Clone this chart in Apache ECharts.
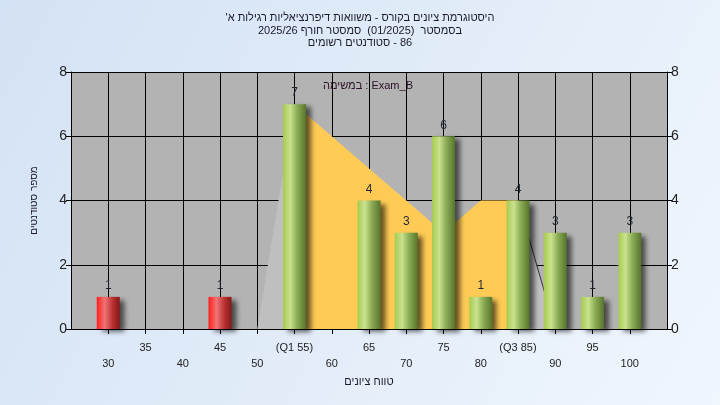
<!DOCTYPE html>
<html>
<head>
<meta charset="utf-8">
<script src="https://cdn.jsdelivr.net/npm/echarts@6/dist/echarts.min.js"></script>
<style>
  html, body { margin: 0; padding: 0; }
  #histChart { width: 720px; height: 405px; }
</style>
</head>
<body>
<div id="histChart"></div>
<script>
// ציונים ומספר סטודנטים
const grades = [30, 45, 55, 65, 70, 75, 80, 85, 90, 95, 100]
const counts = [1, 1, 7, 4, 3, 6, 1, 4, 3, 1, 3]
const passMark = 55

// עקומה ברקע (רבעונים)
const curveX = [50, 55, 60, 65, 70, 75, 80, 85, 90]
const curveY = [0, 7, 6, 5, 4, 3, 4, 4, 0]
const q1 = 55
const q3 = 85

const yTicks = [0, 2, 4, 6, 8]
const xLabels = { 55: '(Q1 55)', 85: '(Q3 85)' }

const titleLines = [
  "היסטוגרמת ציונים בקורס - משוואות דיפרנציאליות רגילות א'",
  'בסמסטר  (01/2025)  סמסטר חורף 2025/26',
  '86 - סטודנטים רשומים'
]
const examLabel = 'Exam_B : במשימה'

const FONT = 'Liberation Sans, Arial, sans-serif'

// טקסט מימין לשמאל
function rtl(s) {
  return '\u202B' + s + '\u202C'
}

function segment(from, to) {
  const pts = []
  curveX.forEach((x, i) => {
    if (x >= from && x <= to) pts.push([x, curveY[i]])
  })
  return pts
}

function barColor(grade) {
  if (grade < passMark) {
    return new echarts.graphic.LinearGradient(0, 0, 1, 0, [
      { offset: 0, color: '#ff1e1e' },
      { offset: 0.35, color: '#f07474' },
      { offset: 0.7, color: '#b83030' },
      { offset: 1, color: '#861818' }
    ])
  }
  return new echarts.graphic.LinearGradient(0, 0, 1, 0, [
    { offset: 0, color: '#a6ca50' },
    { offset: 0.32, color: '#c9e28e' },
    { offset: 0.6, color: '#8fae58' },
    { offset: 1, color: '#56752c' }
  ])
}

const chart = echarts.init(document.getElementById('histChart'))

const option = {
  backgroundColor: new echarts.graphic.LinearGradient(0, 0, 1, 1, [
    { offset: 0, color: '#d3e2f4' },
    { offset: 1, color: '#f0f6fd' }
  ]),
  animation: false,
  textStyle: { fontFamily: FONT },
  title: {
    text: titleLines.map(rtl).join('\n'),
    left: 'center',
    top: 7,
    textStyle: { fontSize: 11, fontWeight: 'normal', color: '#1a1a2a', lineHeight: 12.5, fontFamily: FONT }
  },
  graphic: [
    {
      type: 'text',
      left: 323,
      top: 80,
      style: { text: rtl(examLabel), fontSize: 11, fill: '#2a1028', fontFamily: FONT }
    }
  ],
  grid: {
    left: 71,
    right: 53,
    top: 72,
    bottom: 76,
    show: true,
    backgroundColor: '#b3b3b3',
    borderWidth: 0
  },
  xAxis: {
    type: 'value',
    min: 25,
    max: 105,
    interval: 5,
    name: rtl('טווח ציונים'),
    nameLocation: 'middle',
    nameGap: 46,
    nameTextStyle: { fontSize: 11, color: '#1a1a2a' },
    axisLine: { lineStyle: { color: '#000', width: 1 } },
    axisTick: { show: true, length: 5, lineStyle: { color: '#000' } },
    splitLine: { show: true, lineStyle: { color: '#000', width: 1 } },
    axisLabel: {
      color: '#222',
      fontSize: 11,
      margin: 11,
      lineHeight: 16,
      showMinLabel: false,
      showMaxLabel: false,
      formatter: function(v) {
        if (v <= 25 || v >= 105) return ''
        const txt = xLabels[v] || String(v)
        return v % 10 === 0 ? '\n' + txt : txt
      }
    }
  },
  yAxis: [
    {
      type: 'value',
      min: 0,
      max: yTicks[yTicks.length - 1],
      interval: 2,
      name: rtl('מספר סטודנטים'),
      nameLocation: 'middle',
      nameGap: 32,
      nameTextStyle: { fontSize: 10, color: '#1a1a2a' },
      axisLine: { show: true, lineStyle: { color: '#000' } },
      axisTick: { show: true, length: 5, lineStyle: { color: '#000' } },
      splitLine: { show: true, lineStyle: { color: '#000', width: 1 } },
      axisLabel: { color: '#222', fontSize: 14, margin: 4 }
    },
    {
      type: 'value',
      min: 0,
      max: yTicks[yTicks.length - 1],
      interval: 2,
      position: 'right',
      axisLine: { show: true, lineStyle: { color: '#000' } },
      axisTick: { show: true, length: 5, lineStyle: { color: '#000' } },
      splitLine: { show: false },
      axisLabel: { color: '#222', fontSize: 14, margin: 4 }
    }
  ],
  series: [
    {
      type: 'line',
      data: segment(0, q1),
      symbol: 'none',
      lineStyle: { width: 0 },
      areaStyle: { color: '#bfbfbf', opacity: 1 },
      z: 1
    },
    {
      type: 'line',
      data: segment(q1, q3),
      symbol: 'none',
      lineStyle: { width: 0 },
      areaStyle: { color: '#ffcb55', opacity: 1 },
      z: 1
    },
    {
      type: 'line',
      data: segment(q3, 200),
      symbol: 'none',
      lineStyle: { width: 1, color: '#333' },
      areaStyle: { color: '#bfbfbf', opacity: 1 },
      z: 1
    },
    {
      type: 'bar',
      data: grades.map((g, i) => [g, counts[i]]),
      barWidth: 23,
      z: 3,
      itemStyle: {
        color: function(params) {
          return barColor(params.value[0])
        },
        shadowColor: 'rgba(0,0,0,0.6)',
        shadowBlur: 5,
        shadowOffsetX: 5,
        shadowOffsetY: 3
      },
      label: {
        show: true,
        position: 'top',
        distance: 5,
        fontSize: 12,
        color: '#1e2430',
        formatter: function(p) {
          return p.value[1]
        }
      }
    }
  ]
}

chart.setOption(option)
</script>
</body>
</html>
